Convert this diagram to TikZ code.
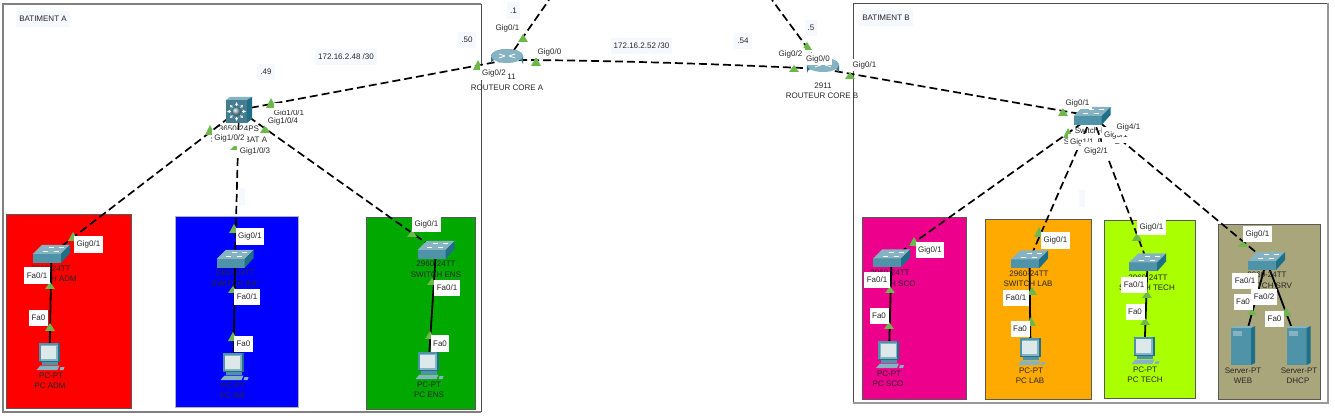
\documentclass[tikz,border=0pt]{standalone}
\usepackage{fontspec}
\setmainfont{Liberation Sans}
\definecolor{tfront}{HTML}{4F93A8}
\definecolor{ttop}{HTML}{86B3C1}
\definecolor{tside}{HTML}{1F6F88}
\definecolor{tgreen}{HTML}{6DB84A}
\definecolor{nbg}{HTML}{F6F8FF}
\definecolor{cgreen}{HTML}{00A800}
\definecolor{corange}{HTML}{FFAA00}
\definecolor{clime}{HTML}{AAFF00}
\definecolor{ctan}{HTML}{AAA67C}
\tikzset{
  dash link/.style={line width=1.7pt,black,dash pattern=on 8pt off 4pt},
  solid link/.style={line width=1.8pt,black},
  room/.style={draw=black!65,line width=.6pt},
  port/.style={fill=white,inner xsep=2.6pt,inner ysep=0pt,minimum height=16.5pt,text=black!85,font=\fontsize{8}{8}\selectfont},
  note/.style={fill=nbg,inner xsep=3pt,inner ysep=0pt,minimum height=16.5pt,text=black!85,font=\fontsize{8}{8}\selectfont},
  dev/.style={inner sep=0pt,text=black!85,font=\fontsize{8}{8}\selectfont},
  swpic/.pic={
    \fill[tfront] (-18.5,0) -- (9.5,0) -- (9.5,9) -- (-18.5,9) -- cycle;
    \fill[ttop] (-18.5,0) -- (-9.5,-9) -- (18.5,-9) -- (9.5,0) -- cycle;
    \fill[tside] (9.5,0) -- (18.5,-9) -- (18.5,-1) -- (9.5,9) -- cycle;
    \draw[white,line width=.5pt] (-9,-2.5) -- (-4,-2.5) (-3,-6.5) -- (2,-6.5) (2,-2.5) -- (7,-2.5) (7,-6.5) -- (12,-6.5);
  },
  rtpic/.pic={
    \shade[left color=tside,right color=tside,middle color=ttop!70!white] (-16,-4) arc (180:360:16 and 7) -- (16,4) arc (360:180:16 and 7) -- cycle;
    \fill[ttop] (0,-4) ellipse (16 and 7);
    \draw[white,line width=.8pt] (-8,-6) -- (-2,-4) (2,-4) -- (8,-2) (-8,-2) -- (-2,-4) (2,-4) -- (8,-6);
  },
  lthreepic/.pic={
    \fill[tfront!85!black] (-13,-10) rectangle (8,13);
    \fill[ttop] (-13,-10) -- (-9,-13) -- (13,-13) -- (8,-10) -- cycle;
    \fill[tside] (8,-10) -- (13,-13) -- (13,9) -- (8,13) -- cycle;
    \shade[ball color=ttop] (-2.5,1.5) circle (4.5);
    \foreach \a in {0,45,...,315}
      \draw[white,line width=.6pt,-stealth] (-2.5,1.5) ++(\a:5.5) -- ++(\a:4);
  },
  pcpic/.pic={
    \fill[tside] (-11,-13.5) rectangle (10,5);
    \fill[ttop] (-11,-13.5) rectangle (8,4);
    \fill[tfront] (-11,-13.5) rectangle (8,-11.5);
    \fill[tfront] (-11,-13.5) rectangle (-9,4);
    \fill[black!10!ttop!25!white] (-8.5,-11) rectangle (6.5,2);
    \fill[tfront] (-8,5) rectangle (8,8);
    \fill[ttop] (-13,13.5) -- (-9,9) -- (10,9) -- (8,13.5) -- cycle;
    \fill[ttop] (10,13.5) -- (11,10.5) -- (15,10.5) -- (14,13.5) -- cycle;
  },
  srvpic/.pic={
    \fill[tfront] (-12,-17.5) rectangle (8,19.5);
    \fill[ttop] (-12,-17.5) -- (-8,-19.5) -- (12,-19.5) -- (8,-17.5) -- cycle;
    \fill[tside] (8,-17.5) -- (12,-19.5) -- (12,17.5) -- (8,19.5) -- cycle;
    \fill[ttop] (-10,-14) rectangle (-1,-9);
  }
}
\begin{document}
\begin{tikzpicture}[x=1pt,y=-1pt]
\useasboundingbox (0,0) rectangle (1335,419);
\fill[white] (0,0) rectangle (1335,419);
% building frames
\draw[black!50,line width=1.5pt] (481,4) -- (3,4) -- (3,412) -- (481,412);
\draw[black!70,line width=.7pt] (481,4) -- (481,412);
\draw[black!70,line width=.7pt] (1328,3) -- (853,3) -- (853,403);
\draw[black!40,line width=1.5pt] (853,403) -- (1328,403) -- (1328,3);
% coloured rooms
\fill[red] (6,214) rectangle (131,408);
\draw[room] (6,214) rectangle (131,408);
\fill[blue] (175,216) rectangle (298,407);
\draw[black!30,line width=.6pt] (175,216) rectangle (298,407);
\fill[cgreen] (366,217) rectangle (475,409);
\draw[room] (366,217) rectangle (475,409);
\fill[magenta] (862,217) rectangle (966,399);
\draw[room] (862,217) rectangle (966,399);
\fill[corange] (985,219) rectangle (1091,399);
\draw[room] (985,219) rectangle (1091,399);
\fill[clime] (1104,220) rectangle (1195,398);
\draw[room] (1104,220) rectangle (1195,398);
\fill[ctan] (1218,224) rectangle (1320,399);
\draw[room] (1218,224) rectangle (1320,399);
% notes
\node[note] (batA) at (43,19) {BATIMENT A};
\node[note] (batB) at (886,18) {BATIMENT B};
\node[note] (netA) at (346,57) {172.16.2.48 /30};
\node[note] (netB) at (641.5,46) {172.16.2.52 /30};
\node[note] (n49) at (266,72) {.49};
\node[note] (n50) at (467,40) {.50};
\node[note] (n1) at (513.5,10.5) {.1};
\node[note] (n54) at (743,41) {.54};
\node[note] (n5) at (811,28) {.5};
\fill[nbg] (239,188) rectangle (245,205);
\fill[nbg] (1079,190) rectangle (1085,207);
% device centres
\coordinate (lthree) at (239,110);
\coordinate (ra) at (507,60);
\coordinate (rb) at (823,69);
\coordinate (swb) at (1092,116);
\coordinate (swadm) at (51.5,254);
\coordinate (swinf) at (235,259);
\coordinate (swens) at (436,250);
\coordinate (swsco) at (891.5,258.5);
\coordinate (swlab) at (1029.5,259.5);
\coordinate (swtech) at (1147.5,262.5);
\coordinate (swsrv) at (1266.5,261);
\coordinate (pcadm) at (49.5,356.5);
\coordinate (pcinf) at (233.5,366.5);
\coordinate (pcens) at (428.5,365.5);
\coordinate (pcsco) at (889,354.5);
\coordinate (pclab) at (1030.5,351.5);
\coordinate (pctech) at (1144.5,350.5);
\coordinate (web) at (1243,345.5);
\coordinate (dhcp) at (1298.5,345.5);
\coordinate (upA) at (549,0);
\coordinate (upB) at (772,0);
% links
\draw[dash link] (ra) -- (upA);
\draw[dash link] (rb) -- (upB);
\draw[dash link] (ra) .. controls (600,60) and (720,64) .. (rb);
\draw[dash link] (lthree) -- (ra);
\draw[dash link] (rb) -- (swb);
\draw[dash link] (lthree) -- (swadm);
\draw[dash link] (lthree) -- (swinf);
\draw[dash link] (lthree) -- (swens);
\draw[dash link] (swb) -- (swsco);
\draw[dash link] (swb) -- (swlab);
\draw[dash link] (swb) -- (swtech);
\draw[dash link] (swb) -- (swsrv);
\draw[solid link] (swadm) -- (pcadm);
\draw[solid link] (swinf) -- (pcinf);
\draw[solid link] (swens) -- (pcens);
\draw[solid link] (swsco) -- (pcsco);
\draw[solid link] (swlab) -- (pclab);
\draw[solid link] (swtech) -- (pctech);
\draw[solid link] (swsrv) -- (web);
\draw[solid link] (swsrv) -- (dhcp);
% link-state triangles
\foreach \x/\t/\b in {271/98/108,210/125/135,265/125/133,235/145/150,
  523/34/42,536/57/66,478/60/70,
  807/42/50,794/65/72,850/72/79,
  1063/108/116,1068/128/138,
  73/232/241,50/282/289,50/323/331,
  234/224/233,233/286/293,233/332/341,
  412/230/237,432/278/285,430/331/339,
  914/237/246,890/286/293,889/322/329,
  1039/227/237,1032/287/295,1031/317/326,
  1137/233/241,1147/291/298,1145/318/325,
  1243/241/247,1252/309/315,1286/307/316}
  \fill[tgreen] (\x-5,\b) -- (\x+5,\b) -- (\x,\t) -- cycle;
% icons
\pic at (lthree) {lthreepic};
\pic at (ra) {rtpic};
\pic at (rb) {rtpic};
\pic at (swb) {swpic};
\pic at (swadm) {swpic};
\pic at (swinf) {swpic};
\pic at (swens) {swpic};
\pic at (swsco) {swpic};
\pic at (swlab) {swpic};
\pic at (swtech) {swpic};
\pic at (swsrv) {swpic};
\pic at (pcadm) {pcpic};
\pic at (pcinf) {pcpic};
\pic at (pcens) {pcpic};
\pic at (pcsco) {pcpic};
\pic at (pclab) {pcpic};
\pic at (pctech) {pcpic};
\pic at (web) {srvpic};
\pic at (dhcp) {srvpic};
% device labels
\node[dev] (dLa) at (239,129) {3650-24PS};
\node[dev] (dLb) at (239,140) {SWITCH BAT A};
\node[dev] (dRAa) at (507,77) {2911};
\node[dev] (dRAb) at (507,88) {ROUTEUR CORE A};
\node[dev] (dRBa) at (823,86) {2911};
\node[dev] (dRBb) at (822,96) {ROUTEUR CORE B};
\node[dev] (dSBa) at (1093,131) {Switch-PT};
\node[dev] (dSBb) at (1092,142) {SWITCH BAT B};
\node[dev] (d1a) at (51,269) {2960-24TT};
\node[dev] (d1b) at (51,279) {SWITCH ADM};
\node[dev] (d2a) at (235,273) {2960-24TT};
\node[dev] (d2b) at (235,284) {SWITCH INF};
\node[dev] (d3a) at (436,264) {2960-24TT};
\node[dev] (d3b) at (436,275) {SWITCH ENS};
\node[dev] (d4a) at (890,273) {2960-24TT};
\node[dev] (d4b) at (890,284) {SWITCH SCO};
\node[dev] (d5a) at (1029,274) {2960-24TT};
\node[dev] (d5b) at (1028,284) {SWITCH LAB};
\node[dev] (d6a) at (1148,278) {2960-24TT};
\node[dev] (d6b) at (1147,288) {SWITCH TECH};
\node[dev] (d7a) at (1267,275) {2960-24TT};
\node[dev] (d7b) at (1267,286) {SWITCH SRV};
\node[dev] (p1a) at (51,376) {PC-PT};
\node[dev] (p1b) at (50,386) {PC ADM};
\node[dev] (p2a) at (233,386) {PC-PT};
\node[dev] (p2b) at (233,396) {PC INF};
\node[dev] (p3a) at (429,385) {PC-PT};
\node[dev] (p3b) at (429,395) {PC ENS};
\node[dev] (p4a) at (889,374) {PC-PT};
\node[dev] (p4b) at (888,384) {PC SCO};
\node[dev] (p5a) at (1031,371) {PC-PT};
\node[dev] (p5b) at (1030,381) {PC LAB};
\node[dev] (p6a) at (1145,370) {PC-PT};
\node[dev] (p6b) at (1145,380) {PC TECH};
\node[dev] (s1a) at (1243,371) {Server-PT};
\node[dev] (s1b) at (1243,381) {WEB};
\node[dev] (s2a) at (1299,371) {Server-PT};
\node[dev] (s2b) at (1298,381) {DHCP};
% port labels
\node[port,minimum height=12pt] (g1) at (507.5,28) {Gig0/1};
\node[port,minimum height=12pt] (g2) at (549.5,52) {Gig0/0};
\node[port,minimum height=14pt] (g3) at (494,73) {Gig0/2};
\node[port,minimum height=12pt] (g4) at (818,59) {Gig0/0};
\node[port,minimum height=12pt] (g5) at (790.5,54) {Gig0/2};
\node[port,minimum height=12pt] (g6) at (864.5,65) {Gig0/1};
\node[dev] (g7) at (289,113) {Gig1/0/1};
\fill[white] (274,103.5) rectangle (305,110.5);
\node[port,minimum height=12pt] (g8) at (283,121) {Gig1/0/4};
\node[port,minimum height=16pt] (g9) at (229.5,138) {Gig1/0/2};
\node[port,minimum height=15pt] (g10) at (255,151) {Gig1/0/3};
\node[port,minimum height=12pt] (g11) at (1077.5,103) {Gig0/1};
\node[port,minimum height=16pt] (g12) at (1082,142) {Gig1/1};
\node[port,minimum height=16pt] (g13) at (1116,135) {Gig3/1};
\node[port,minimum height=16pt] (g14) at (1128.5,127) {Gig4/1};
\node[port,minimum height=17pt,minimum width=31pt] (g15) at (1096,151) {Gig2/1};
\node[port] (a1) at (88.5,244.5) {Gig0/1};
\node[port] (a2) at (37,275.5) {Fa0/1};
\node[port] (a3) at (38.5,318) {Fa0};
\node[port] (b1) at (250,236.5) {Gig0/1};
\node[port] (b2) at (247,297) {Fa0/1};
\node[port] (b3) at (243.5,344) {Fa0};
\node[port] (c1) at (426.5,224) {Gig0/1};
\node[port] (c2) at (447,288) {Fa0/1};
\node[port] (c3) at (440,343.5) {Fa0};
\node[port] (e1) at (930,250) {Gig0/1};
\node[port] (e2) at (877,280) {Fa0/1};
\node[port] (e3) at (879,316) {Fa0};
\node[port] (f1) at (1055.5,240.5) {Gig0/1};
\node[port] (f2) at (1016,298) {Fa0/1};
\node[port] (f3) at (1020,329) {Fa0};
\node[port] (h1) at (1151.5,227) {Gig0/1};
\node[port] (h2) at (1134,285) {Fa0/1};
\node[port] (h3) at (1135,312) {Fa0};
\node[port] (i1) at (1257.5,234) {Gig0/1};
\node[port] (i2) at (1245,281) {Fa0/1};
\node[port] (i3) at (1264,297) {Fa0/2};
\node[port] (i4) at (1243,302) {Fa0};
\node[port] (i5) at (1274.5,319) {Fa0};
\end{tikzpicture}
\end{document}
